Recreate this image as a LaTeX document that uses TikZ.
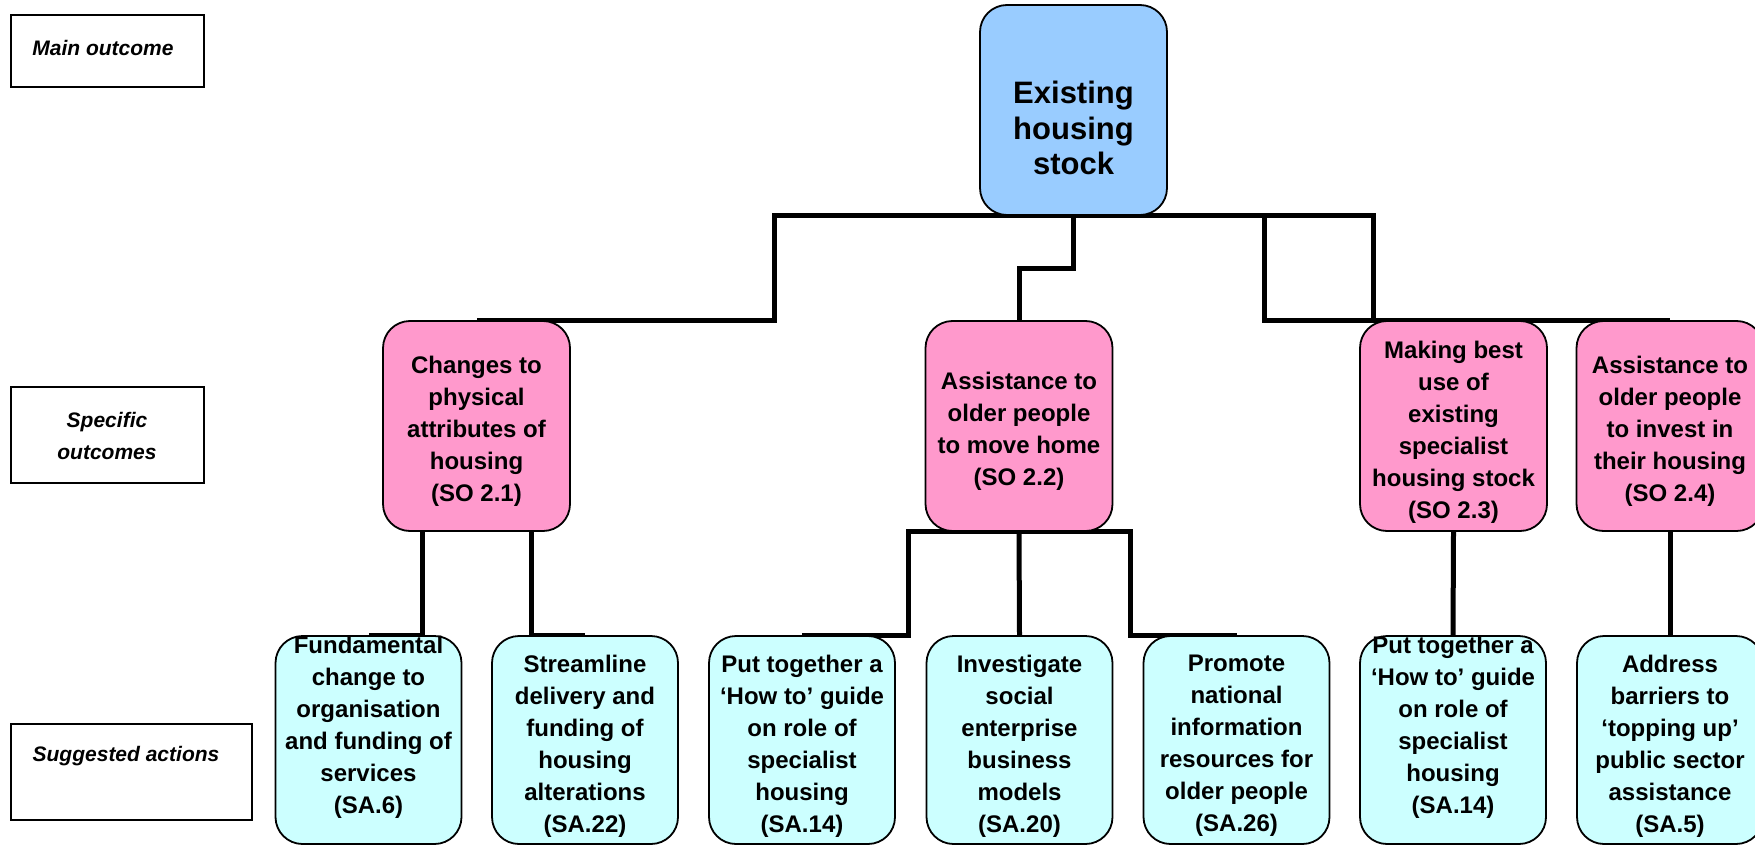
\documentclass[tikz,border=0pt]{standalone}
\usepackage{fontspec}
\setmainfont{Liberation Sans}
\usetikzlibrary{backgrounds}
\definecolor{mainblue}{HTML}{99CCFF}
\definecolor{sopink}{HTML}{FF99CC}
\definecolor{sacyan}{HTML}{CCFFFF}
\begin{document}
\begin{tikzpicture}[x=1pt,y=-1pt,
  conn/.style={line width=5pt},
  boxbase/.style={draw, line width=1.8pt, rounded corners=27pt, minimum width=187pt, minimum height=210pt, inner sep=0pt},
  mainbox/.style={boxbase, fill=mainblue},
  sobox/.style={boxbase, fill=sopink},
  sabox/.style={boxbase, fill=sacyan, minimum width=186pt, minimum height=208pt},
  lblbox/.style={draw, line width=2.6pt, inner sep=0pt},
  maintxt/.style={align=center, inner sep=0pt, font=\fontsize{31}{35.5}\selectfont\bfseries},
  btxt/.style={align=center, inner sep=0pt, yshift=-2pt, font=\fontsize{24}{32}\selectfont\bfseries},
  lbltxt/.style={align=center, inner sep=0pt, yshift=-2pt, font=\fontsize{21}{32}\selectfont\bfseries\itshape}
]
\useasboundingbox (0,0) rectangle (1755,845);

% left labels
\node[lblbox, minimum width=193pt, minimum height=72pt] (lmain) at (107.5,51) {};
\node[lbltxt] (lmaint) at (103,46) {Main outcome};
\node[lblbox, minimum width=193pt, minimum height=96pt] (lspec) at (107.5,435) {};
\node[lbltxt] (lspect) at (107,434) {Specific\\outcomes};
\node[lblbox, minimum width=241pt, minimum height=96pt] (lsug) at (131.5,772) {};
\node[lbltxt] (lsugt) at (126,754) {Suggested actions};

% main node
\node[mainbox] (main) at (1073.5,110) {};
\node[maintxt] (maint) at (1073.5,128) {Existing\\housing\\stock};

% specific outcomes
\node[sobox] (so21) at (476.5,426) {};
\node[btxt] (so21t) at (476.5,429) {Changes to\\physical\\attributes of\\housing\\(SO 2.1)};
\node[sobox] (so22) at (1019,426) {};
\node[btxt] (so22t) at (1019,429) {Assistance to\\older people\\to move home\\(SO 2.2)};
\node[sobox] (so23) at (1453.5,426) {};
\node[btxt] (so23t) at (1453.5,430) {Making best\\use of\\existing\\specialist\\housing stock\\(SO 2.3)};
\node[sobox] (so24) at (1670,426) {};
\node[btxt] (so24t) at (1670,429) {Assistance to\\older people\\to invest in\\their housing\\(SO 2.4)};

% suggested actions
\node[sabox] (sa6) at (368.5,740) {};
\node[btxt] (sa6t) at (368.5,725) {Fundamental\\change to\\organisation\\and funding of\\services\\(SA.6)};
\node[sabox] (sa22) at (585,740) {};
\node[btxt] (sa22t) at (585,744) {Streamline\\delivery and\\funding of\\housing\\alterations\\(SA.22)};
\node[sabox] (sa14a) at (802,740) {};
\node[btxt] (sa14at) at (802,744) {Put together a\\‘How to’ guide\\on role of\\specialist\\housing\\(SA.14)};
\node[sabox] (sa20) at (1019.5,740) {};
\node[btxt] (sa20t) at (1019.5,744) {Investigate\\social\\enterprise\\business\\models\\(SA.20)};
\node[sabox] (sa26) at (1236.5,740) {};
\node[btxt] (sa26t) at (1236.5,744) {Promote\\national\\information\\resources for\\older people\\(SA.26)};
\node[sabox] (sa14b) at (1453,740) {};
\node[btxt] (sa14bt) at (1453,725) {Put together a\\‘How to’ guide\\on role of\\specialist\\housing\\(SA.14)};
\node[sabox] (sa5) at (1670,740) {};
\node[btxt] (sa5t) at (1670,744) {Address\\barriers to\\‘topping up’\\public sector\\assistance\\(SA.5)};

% connectors
\begin{scope}[on background layer]
\draw[conn] (main.south) -- ++(-299.5,0) |- (so21.north);
\draw[conn] (main.south) -- ++(0,53) -| (so22.north);
\draw[conn] (main.south) -- ++(190.5,0) |- (so23.north);
\draw[conn] (main.south) -- ++(299.5,0) |- (so24.north);
\draw[conn] ([xshift=-54.5pt]so21.south) |- (sa6.north);
\draw[conn] ([xshift=54.5pt]so21.south) |- (sa22.north);
\draw[conn] (so22.south) -- ++(-111,0) |- (sa14a.north);
\draw[conn] (so22.south) -- (sa20.north);
\draw[conn] (so22.south) -- ++(111,0) |- (sa26.north);
\draw[conn] (so23.south) -- (sa14b.north);
\draw[conn] (so24.south) -- (sa5.north);
\end{scope}
\end{tikzpicture}
\end{document}
